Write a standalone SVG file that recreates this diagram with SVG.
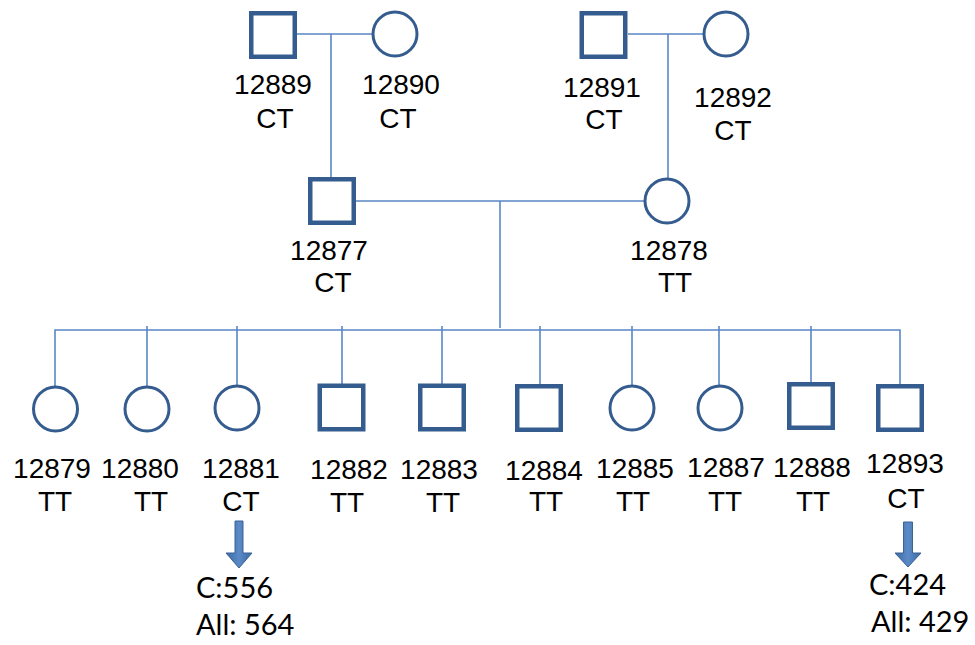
<svg xmlns="http://www.w3.org/2000/svg" width="975" height="645" viewBox="0 0 975 645">
<defs>
<style>
.sq{fill:#fff;stroke:#345c8e;stroke-width:4.5}
.ci{fill:#fff;stroke:#345c8e;stroke-width:3}
.ln{fill:none;stroke:#5a87c5;stroke-width:1.6}
.lb{font-family:"Liberation Sans",Arial,sans-serif;font-size:28px;fill:#000;text-anchor:middle}
.cnt{font-family:Lato,"Open Sans",sans-serif;font-size:29px;fill:#000}
.arr{fill:url(#ag);stroke:#3b6394;stroke-width:1}
</style>
<linearGradient id="ag" x1="0" y1="0" x2="1" y2="0">
<stop offset="0" stop-color="#3d6aa3"/>
<stop offset="0.5" stop-color="#5b8ac8"/>
<stop offset="1" stop-color="#3d6aa3"/>
</linearGradient>
</defs>
<rect width="975" height="645" fill="#fff"/>
<g id="connectors">
<path class="ln" d="M297 34H373M331 34V177"/>
<path class="ln" d="M628 34H704M668 34V179"/>
<path class="ln" d="M356 201H645M500 201V328"/>
<path class="ln" d="M55 386V330H900V384"/>
<path class="ln" d="M147 326V386M237 326V386M342 326V384M442 326V384M540 326V384M632 326V386M719 326V386M811 326V382"/>
</g>
<g id="n12889"><rect class="sq" x="251.25" y="13.25" width="43.5" height="43.5"/><text class="lb" x="273" y="94">12889</text><text class="lb" x="275" y="128">CT</text></g>
<g id="n12890"><circle class="ci" cx="395" cy="34" r="22"/><text class="lb" x="401" y="94">12890</text><text class="lb" x="398" y="128">CT</text></g>
<g id="n12891"><rect class="sq" x="581.75" y="13.25" width="43.5" height="43.5"/><text class="lb" x="602" y="97">12891</text><text class="lb" x="604" y="129">CT</text></g>
<g id="n12892"><circle class="ci" cx="726" cy="34" r="22"/><text class="lb" x="733" y="107">12892</text><text class="lb" x="733" y="140">CT</text></g>
<g id="n12877"><rect class="sq" x="310.25" y="179.25" width="43.5" height="43.5"/><text class="lb" x="329" y="260">12877</text><text class="lb" x="333" y="292">CT</text></g>
<g id="n12878"><circle class="ci" cx="667" cy="201" r="22"/><text class="lb" x="669" y="260">12878</text><text class="lb" x="675" y="292">TT</text></g>
<g id="n12879"><circle class="ci" cx="55.5" cy="409" r="22"/><text class="lb" x="52" y="478">12879</text><text class="lb" x="55" y="511">TT</text></g>
<g id="n12880"><circle class="ci" cx="147" cy="409" r="22"/><text class="lb" x="140" y="478">12880</text><text class="lb" x="151" y="511">TT</text></g>
<g id="n12881"><circle class="ci" cx="237" cy="408" r="22"/><text class="lb" x="241" y="478">12881</text><text class="lb" x="241" y="511">CT</text></g>
<g id="n12882"><rect class="sq" x="319.75" y="385.75" width="43.5" height="43.5"/><text class="lb" x="349" y="479">12882</text><text class="lb" x="347" y="512">TT</text></g>
<g id="n12883"><rect class="sq" x="420.25" y="385.75" width="43.5" height="43.5"/><text class="lb" x="439" y="479">12883</text><text class="lb" x="443" y="512">TT</text></g>
<g id="n12884"><rect class="sq" x="517.25" y="386.25" width="43.5" height="43.5"/><text class="lb" x="544" y="480">12884</text><text class="lb" x="546" y="511">TT</text></g>
<g id="n12885"><circle class="ci" cx="632" cy="408" r="22"/><text class="lb" x="635" y="478">12885</text><text class="lb" x="633" y="511">TT</text></g>
<g id="n12887"><circle class="ci" cx="720" cy="408" r="22"/><text class="lb" x="726" y="477">12887</text><text class="lb" x="725" y="511">TT</text></g>
<g id="n12888"><rect class="sq" x="789.25" y="384.25" width="43.5" height="43.5"/><text class="lb" x="812" y="477">12888</text><text class="lb" x="813" y="511">TT</text></g>
<g id="n12893"><rect class="sq" x="878.25" y="386.25" width="43.5" height="43.5"/><text class="lb" x="905" y="473">12893</text><text class="lb" x="906" y="508">CT</text></g>
<g id="count12881">
<path class="arr" d="M235 521H243V553H252L239 568L226 553H235Z"/>
<text class="cnt" x="196" y="598">C:556</text>
<text class="cnt" x="196" y="635">All: 564</text>
</g>
<g id="count12893">
<path class="arr" d="M903.5 522H912.5V553H921L908 567L895 553H903.5Z"/>
<text class="cnt" x="869" y="595">C:424</text>
<text class="cnt" x="871" y="632">All: 429</text>
</g>
</svg>
